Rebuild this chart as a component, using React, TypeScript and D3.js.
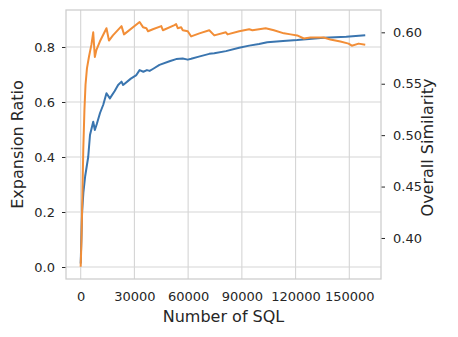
import React, { useEffect, useRef } from 'react';
import * as d3 from 'd3';

// expansion ratio (left axis)
const ratioSql = [0, 800, 1500, 2500, 4200, 5200, 7000, 7900, 9000, 10800, 12600, 14400, 16300, 19000, 20900, 22800, 23700, 28000, 31100, 32900, 35000, 37000, 38500, 40300, 44000, 49600, 53300, 57000, 59800, 61700, 66000, 71800, 74600, 81100, 88500, 94100, 99600, 104200, 113000, 120900, 135700, 148300, 158900];
const ratioValues = [0.013, 0.2, 0.27, 0.33, 0.4, 0.48, 0.528, 0.498, 0.52, 0.56, 0.59, 0.632, 0.613, 0.64, 0.662, 0.674, 0.662, 0.685, 0.698, 0.716, 0.71, 0.716, 0.713, 0.72, 0.735, 0.748, 0.756, 0.758, 0.754, 0.757, 0.765, 0.775, 0.777, 0.785, 0.797, 0.805, 0.811, 0.817, 0.822, 0.825, 0.834, 0.837, 0.843];

// overall similarity (right axis)
const similaritySql = [0, 450, 900, 1450, 2100, 2700, 3500, 4600, 6000, 7000, 7900, 8800, 10700, 14400, 15800, 18000, 22800, 24200, 32900, 34800, 36700, 37600, 40300, 45000, 45900, 52400, 53300, 54200, 56100, 57000, 59800, 61700, 66300, 71800, 74600, 81100, 82000, 88500, 94100, 95900, 99600, 103300, 107900, 113500, 117200, 120900, 124600, 128300, 132000, 135700, 139400, 145000, 149600, 151400, 155200, 158900];
const similarityValues = [0.372, 0.398, 0.437, 0.486, 0.525, 0.549, 0.565, 0.576, 0.588, 0.6, 0.576, 0.583, 0.591, 0.604, 0.592, 0.597, 0.606, 0.598, 0.61, 0.605, 0.604, 0.601, 0.603, 0.606, 0.602, 0.607, 0.608, 0.604, 0.605, 0.602, 0.601, 0.596, 0.599, 0.602, 0.597, 0.6, 0.598, 0.601, 0.603, 0.602, 0.603, 0.604, 0.602, 0.599, 0.598, 0.597, 0.594, 0.595, 0.595, 0.595, 0.593, 0.591, 0.589, 0.587, 0.589, 0.588];

const sqlTicks = [0, 30000, 60000, 90000, 120000, 150000];
const ratioTicks = [0, 0.2, 0.4, 0.6, 0.8];
const similarityTicks = [0.4, 0.45, 0.5, 0.55, 0.6];

const App = () => {
  const svgRef = useRef<SVGSVGElement>(null);

  useEffect(() => {
    const svg = d3.select(svgRef.current);
    svg.selectAll('*').remove();

    const width = 458,
      height = 337,
      margin = { top: 10, right: 77, bottom: 58, left: 66 };
    const chartWidth = width - margin.left - margin.right;
    const chartHeight = height - margin.top - margin.bottom;
    const font = 'DejaVu Sans';
    const textColor = '#262626';
    const gridColor = '#d5d5d5';

    const xScale = d3.scaleLinear().domain([-8200, 167700]).range([0, chartWidth]);
    const yLeft = d3.scaleLinear().domain([-0.0436, 0.9345]).range([chartHeight, 0]);
    const yRight = d3.scaleLinear().domain([0.3601, 0.6217]).range([chartHeight, 0]);

    const chart = svg
      .append('g')
      .attr('transform', `translate(${margin.left},${margin.top})`);

    // grid
    chart
      .selectAll('.vgrid')
      .data(sqlTicks)
      .enter()
      .append('line')
      .attr('x1', d => xScale(d))
      .attr('x2', d => xScale(d))
      .attr('y1', 0)
      .attr('y2', chartHeight)
      .attr('stroke', gridColor)
      .attr('stroke-width', 1.1);
    chart
      .selectAll('.hgrid')
      .data(ratioTicks)
      .enter()
      .append('line')
      .attr('x1', 0)
      .attr('x2', chartWidth)
      .attr('y1', d => yLeft(d))
      .attr('y2', d => yLeft(d))
      .attr('stroke', gridColor)
      .attr('stroke-width', 1.1);

    const styleAxis = (g, size) => {
      g.attr('font-family', font).attr('font-size', size);
      g.select('.domain').remove();
      g.selectAll('.tick line').attr('stroke', textColor).attr('stroke-width', 1);
      g.selectAll('.tick text').attr('fill', textColor);
    };

    chart
      .append('g')
      .attr('transform', `translate(0,${chartHeight})`)
      .call(d3.axisBottom(xScale).tickValues(sqlTicks).tickFormat(d3.format('d')).tickSize(0).tickPadding(12.5))
      .call(g => styleAxis(g, 13));

    chart
      .append('g')
      .call(d3.axisLeft(yLeft).tickValues(ratioTicks).tickFormat(d3.format('.1f')).tickSize(4).tickPadding(7))
      .call(g => styleAxis(g, 13));

    chart
      .append('g')
      .attr('transform', `translate(${chartWidth},0)`)
      .call(d3.axisRight(yRight).tickValues(similarityTicks).tickFormat(d3.format('.2f')).tickSize(4).tickPadding(8))
      .call(g => styleAxis(g, 13));

    // frame
    chart
      .append('rect')
      .attr('width', chartWidth)
      .attr('height', chartHeight)
      .attr('fill', 'none')
      .attr('stroke', '#cccccc')
      .attr('stroke-width', 1.25);

    const ratioLine = d3
      .line<number>()
      .x((d, i) => xScale(ratioSql[i]))
      .y(d => yLeft(d));
    const similarityLine = d3
      .line<number>()
      .x((d, i) => xScale(similaritySql[i]))
      .y(d => yRight(d));

    chart
      .append('path')
      .attr('d', ratioLine(ratioValues))
      .attr('fill', 'none')
      .attr('stroke', '#3a75af')
      .attr('stroke-width', 2)
      .attr('stroke-linejoin', 'round');

    chart
      .append('path')
      .attr('d', similarityLine(similarityValues))
      .attr('fill', 'none')
      .attr('stroke', '#f28e37')
      .attr('stroke-width', 2)
      .attr('stroke-linejoin', 'round');

    // labels
    chart
      .append('text')
      .attr('text-anchor', 'middle')
      .attr('x', chartWidth / 2)
      .attr('y', chartHeight + 43)
      .attr('font-family', font)
      .attr('font-size', 16)
      .attr('fill', textColor)
      .text('Number of SQL');

    chart
      .append('text')
      .attr('text-anchor', 'middle')
      .attr('transform', `translate(${23 - margin.left},${chartHeight / 2}) rotate(-90)`)
      .attr('font-family', font)
      .attr('font-size', 16)
      .attr('fill', textColor)
      .text('Expansion Ratio');

    chart
      .append('text')
      .attr('text-anchor', 'middle')
      .attr('transform', `translate(${433 - margin.left},${chartHeight / 2 + 3}) rotate(-90)`)
      .attr('font-family', font)
      .attr('font-size', 16)
      .attr('fill', textColor)
      .text('Overall Similarity');
  }, []);

  return (
    <svg
      ref={svgRef}
      width={458}
      height={337}
      style={{ position: 'absolute', left: 0, top: 0, background: '#fff' }}
    />
  );
};

export default App;
